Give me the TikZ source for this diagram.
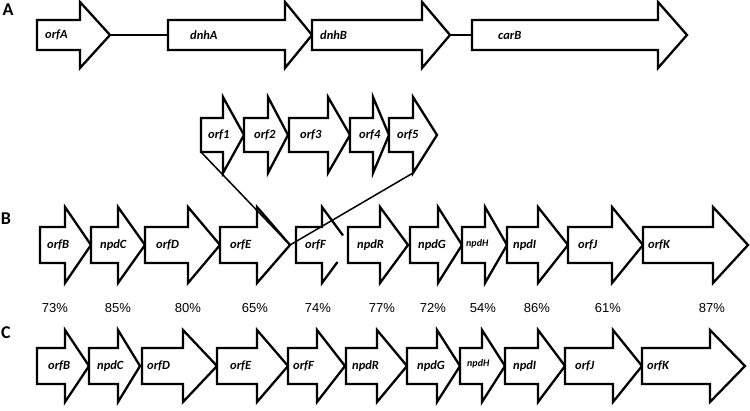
\documentclass[tikz,border=0pt]{standalone}
\usepackage{fontspec}
\setmainfont{Carlito}
\newfontfamily\arialfont{Liberation Sans}
\tikzset{
  genebox/.style={draw=black, line width=2.3pt, fill=white, line join=miter},
  genelab/.style={anchor=west, inner sep=0pt, font=\fontsize{12.5}{14}\selectfont\bfseries\itshape},
  smalllab/.style={anchor=west, inner sep=0pt, font=\fontsize{10}{12}\selectfont\bfseries\itshape},
  pct/.style={inner sep=0pt, font=\arialfont\fontsize{13}{15}\selectfont},
  panel/.style={inner sep=0pt, font=\fontsize{18}{20}\selectfont\bfseries},
  joinline/.style={draw=black, line width=2.3pt},
  crossline/.style={draw=black, line width=1.5pt}
}
\newcommand\gene[9]{%
  \draw[genebox] (#2,#5-#6) -- (#3,#5-#6) -- (#3,#5-#7) -- (#4,#5) -- (#3,#5+#7) -- (#3,#5+#6) -- (#2,#5+#6) -- cycle;
  \coordinate (#1-w) at (#2,#5);
  \coordinate (#1-tip) at (#4,#5);
  \coordinate (#1-bl) at (#2,#5+#6);
  \coordinate (#1-hb) at (#3,#5+#7);
  \node[genelab] (#1) at (#8,#5) {#9};
}
\begin{document}
\begin{tikzpicture}[x=1pt,y=-1pt]
\useasboundingbox (0,0) rectangle (750,410);

% panel letters
\node[panel] (pA) at (8,10) {A};
\node[panel] (pB) at (6,219) {B};
\node[panel] (pC) at (6,333) {C};

% Row A
\gene{A-orfA}{37}{80}{110}{35}{15}{33}{45}{orfA}
\gene{A-dnhA}{168}{285}{312}{35}{15}{33}{190}{dnhA}
\gene{A-dnhB}{312}{422}{450}{35}{15}{33}{320}{dnhB}
\gene{A-carB}{472}{658}{687}{35}{15}{33}{498}{carB}
\draw[joinline] (A-orfA-tip) -- (A-dnhA-w);
\draw[joinline] (A-dnhB-tip) -- (A-carB-w);

% insertion orfs
\gene{orf1}{201}{223}{244}{135}{17}{38}{208}{orf1}
\gene{orf2}{244}{268}{288}{135}{17}{38}{254}{orf2}
\gene{orf3}{289}{328}{350}{135}{17}{38}{300}{orf3}
\gene{orf4}{350}{373}{389}{135}{17}{38}{359}{orf4}
\gene{orf5}{389}{413}{437}{135}{17}{38}{397}{orf5}

% Row B
\gene{B-orfB}{40}{65}{91}{245}{18}{38}{47}{orfB}
\gene{B-npdC}{91}{118}{145}{245}{18}{38}{100}{npdC}
\gene{B-orfD}{145}{188}{220}{245}{18}{38}{156}{orfD}
\gene{B-orfE}{220}{257}{290}{245}{18}{38}{230}{orfE}
% broken orfF
\fill[white] (296,227) -- (322,227) -- (322,207) -- (350,245) -- (322,283) -- (322,263) -- (296,263) -- cycle;
\draw[genebox] (343,235.5) -- (322,207) -- (322,227) -- (296,227) -- (296,263) -- (322,263) -- (322,283) -- (337.5,262);
\node[genelab] (B-orfF) at (305,245) {orfF};
\gene{B-npdR}{348}{380}{408}{245}{18}{38}{357}{npdR}
\gene{B-npdG}{410}{438}{462}{245}{18}{38}{418}{npdG}
\gene{B-npdH}{462}{485}{507}{245}{18}{38}{466}{}
\node[smalllab] (B-npdH-lab) at (466,244) {npdH};
\gene{B-npdI}{507}{538}{568}{245}{18}{38}{513}{npdI}
\gene{B-orfJ}{568}{612}{643}{245}{18}{38}{578}{orfJ}
\gene{B-orfK}{643}{713}{748}{245}{18}{38}{648}{orfK}

% insertion lines
\draw[crossline] (orf1-bl) -- (B-orfE-tip);
\draw[crossline] (B-orfE-tip) -- (orf5-hb);

% percentages
\node[pct] (p1) at (55,308) {73\%};
\node[pct] (p2) at (118,308) {85\%};
\node[pct] (p3) at (188,308) {80\%};
\node[pct] (p4) at (255,308) {65\%};
\node[pct] (p5) at (318,308) {74\%};
\node[pct] (p6) at (382,308) {77\%};
\node[pct] (p7) at (433,308) {72\%};
\node[pct] (p8) at (483,308) {54\%};
\node[pct] (p9) at (537,308) {86\%};
\node[pct] (p10) at (608,308) {61\%};
\node[pct] (p11) at (712,308) {87\%};

% Row C
\gene{C-orfB}{37}{65}{89}{366}{18}{36}{48}{orfB}
\gene{C-npdC}{89}{118}{140}{366}{18}{36}{97}{npdC}
\gene{C-orfD}{142}{183}{217}{366}{18}{36}{147}{orfD}
\gene{C-orfE}{217}{257}{288}{366}{18}{36}{230}{orfE}
\gene{C-orfF}{288}{317}{345}{366}{18}{36}{293}{orfF}
\gene{C-npdR}{346}{377}{407}{366}{18}{36}{352}{npdR}
\gene{C-npdG}{407}{437}{460}{366}{18}{36}{417}{npdG}
\gene{C-npdH}{460}{482}{505}{366}{18}{36}{467}{}
\node[smalllab] (C-npdH-lab) at (467,364) {npdH};
\gene{C-npdI}{505}{538}{565}{366}{18}{36}{513}{npdI}
\gene{C-orfJ}{565}{613}{642}{366}{18}{36}{575}{orfJ}
\gene{C-orfK}{642}{710}{745}{366}{18}{36}{647}{orfK}
\end{tikzpicture}
\end{document}
